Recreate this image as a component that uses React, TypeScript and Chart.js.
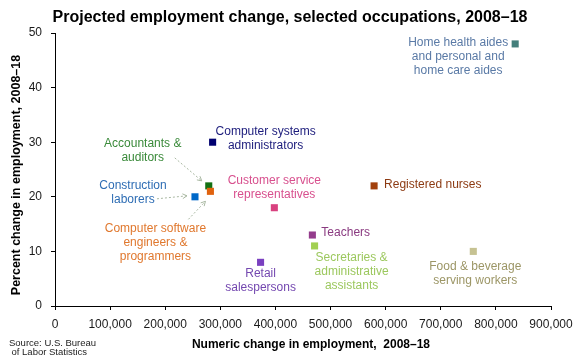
import React, { useEffect, useRef } from "react";
import { Chart, registerables } from "chart.js";

Chart.register(...registerables);

const occupations = [
  "Home health aides and personal and home care aides",
  "Computer systems administrators",
  "Accountants & auditors",
  "Construction laborers",
  "Computer software engineers & programmers",
  "Customer service representatives",
  "Registered nurses",
  "Teachers",
  "Secretaries & administrative assistants",
  "Retail salespersons",
  "Food & beverage serving workers",
];
const numericChange = [835000, 286000, 279000, 254000, 282000, 398000, 579000, 467000, 471000, 373000, 759000];
const percentChange = [48, 30, 22, 20, 21, 18, 22, 13, 11, 8, 10];
const markerColors = ["#447f7b", "#000070", "#127012", "#0068c8", "#e0620e", "#d8417f", "#a2400c", "#943c8c", "#a2d052", "#7a40c0", "#c6c292"];
const textColors = ["#5a7aa6", "#1c1c7c", "#3a8a3a", "#2e6db4", "#e0782e", "#d8508e", "#8c3a12", "#8a3a80", "#9cc85e", "#7448b0", "#9c9666"];
const labelLines = [
  ["Home health aides", "and personal and", "home care aides"],
  ["Computer systems", "administrators"],
  ["Accountants &", "auditors"],
  ["Construction", "laborers"],
  ["Computer software", "engineers &", "programmers"],
  ["Customer service", "representatives"],
  ["Registered nurses"],
  ["Teachers"],
  ["Secretaries &", "administrative", "assistants"],
  ["Retail", "salespersons"],
  ["Food & beverage", "serving workers"],
];
const xTickLabels = ["0", "100,000", "200,000", "300,000", "400,000", "500,000", "600,000", "700,000", "800,000", "900,000"];
const yTickLabels = ["0", "10", "20", "30", "40", "50"];

const titleText = "Projected employment change, selected occupations, 2008\u201318";
const xTitle = "Numeric change in employment,  2008\u201318";
const yTitle = "Percent change in employment, 2008\u201318";
const sourceLines = ["Source: U.S. Bureau", "of Labor Statistics"];

// label placement relative to the marker pixel: [dx, dy, align]
const labelPlacement: [number, number, CanvasTextAlign][] = [
  [-57, -1, "center"],
  [53, -11, "center"],
  [-66, -42, "center"],
  [-62, -11, "center"],
  [-55, 37, "center"],
  [0, -27, "center"],
  [10, -1, "left"],
  [9, -2, "left"],
  [37, 12, "center"],
  [0, 11, "center"],
  [2, 15, "center"],
];
// leader arrows: [pointIndex, fromDx, fromDy, toDx, toDy]
const arrows: [number, number, number, number, number][] = [
  [2, -34, -28, -7, -5],
  [3, -38, 2, -8, -1],
  [4, -22, 28, -5, 10],
];

const FONT = "Arial, 'Liberation Sans', sans-serif";

const annotations = {
  id: "annotations",
  afterDraw(chart: any) {
    const ctx: CanvasRenderingContext2D = chart.ctx;
    const meta = chart.getDatasetMeta(0);
    ctx.save();
    // title
    ctx.fillStyle = "#000";
    ctx.font = `bold 16px ${FONT}`;
    ctx.textAlign = "center";
    ctx.textBaseline = "middle";
    ctx.fillText(titleText, 290, 18);
    // x title
    ctx.font = `bold 12px ${FONT}`;
    ctx.fillText(xTitle, 311, 345);
    // y title
    ctx.save();
    ctx.translate(17, 175);
    ctx.rotate(-Math.PI / 2);
    ctx.font = `bold 12.5px ${FONT}`;
    ctx.fillText(yTitle, 0, 0);
    ctx.restore();
    // source
    ctx.font = `9.5px ${FONT}`;
    ctx.textAlign = "left";
    ctx.fillStyle = "#222";
    ctx.fillText(sourceLines[0], 9, 343);
    ctx.fillText(sourceLines[1], 11.5, 352);
    // labels
    ctx.font = `12px ${FONT}`;
    labelLines.forEach((lines, i) => {
      const pt = meta.data[i];
      const [dx, dy, align] = labelPlacement[i];
      ctx.fillStyle = textColors[i];
      ctx.textAlign = align;
      lines.forEach((ln, j) => {
        ctx.fillText(ln, pt.x + dx, pt.y + dy + j * 14);
      });
    });
    // arrows
    ctx.strokeStyle = "#a9b8a2";
    ctx.lineWidth = 1;
    arrows.forEach(([i, fx, fy, tx, ty]) => {
      const pt = meta.data[i];
      const x1 = pt.x + fx, y1 = pt.y + fy, x2 = pt.x + tx, y2 = pt.y + ty;
      ctx.setLineDash([2, 2]);
      ctx.beginPath();
      ctx.moveTo(x1, y1);
      ctx.lineTo(x2, y2);
      ctx.stroke();
      ctx.setLineDash([]);
      const ang = Math.atan2(y2 - y1, x2 - x1);
      ctx.beginPath();
      ctx.moveTo(x2 - 5 * Math.cos(ang - 0.5), y2 - 5 * Math.sin(ang - 0.5));
      ctx.lineTo(x2, y2);
      ctx.lineTo(x2 - 5 * Math.cos(ang + 0.5), y2 - 5 * Math.sin(ang + 0.5));
      ctx.stroke();
    });
    ctx.restore();
  },
};

export default function App() {
  const ref = useRef<HTMLCanvasElement>(null);
  useEffect(() => {
    document.body.style.margin = "0";
    const chart = new Chart(ref.current!, {
      type: "scatter",
      data: {
        datasets: [
          {
            label: "Occupations",
            data: numericChange.map((x, i) => ({ x, y: percentChange[i] })),
            pointStyle: "rect",
            pointRadius: 5,
            pointHoverRadius: 5,
            pointBackgroundColor: markerColors,
            pointBorderWidth: 0,
            borderWidth: 0,
          },
        ],
      },
      options: {
        responsive: false,
        animation: false,
        events: [],
        layout: { padding: { top: 33, right: 29, left: 0, bottom: 0 } },
        plugins: { legend: { display: false }, tooltip: { enabled: false }, title: { display: false } },
        scales: {
          x: {
            type: "linear",
            min: 0,
            max: 900000,
            afterFit: (s: any) => { s.height = 54; },
            ticks: {
              stepSize: 100000,
              padding: 7,
              color: "#1a1a1a",
              font: { family: FONT, size: 12 },
              maxRotation: 0,
              callback: (_v: any, idx: number) => xTickLabels[idx],
            },
            grid: { drawOnChartArea: false, drawTicks: true, tickLength: 4, color: "#000" },
            border: { color: "#000", width: 1 },
          },
          y: {
            type: "linear",
            min: 0,
            max: 50,
            afterFit: (s: any) => { s.width = 55; },
            ticks: {
              stepSize: 10,
              padding: 9,
              color: "#1a1a1a",
              font: { family: FONT, size: 12 },
              callback: (_v: any, idx: number) => yTickLabels[idx],
            },
            grid: { drawOnChartArea: false, drawTicks: true, tickLength: 4, color: "#000" },
            border: { color: "#000", width: 1 },
          },
        },
      },
      plugins: [annotations],
    });
    return () => chart.destroy();
  }, []);
  return (
    <div style={{ position: "absolute", left: 0, top: 0, width: 580, height: 360, background: "#fff" }}>
      <canvas ref={ref} width={580} height={360} />
    </div>
  );
}
